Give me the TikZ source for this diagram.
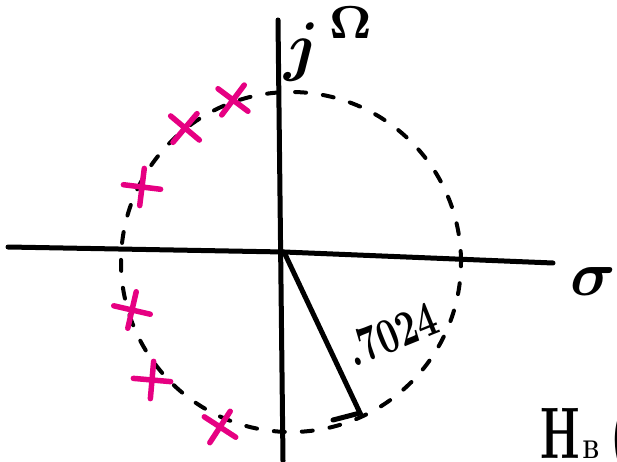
\documentclass[tikz,border=0pt]{standalone}
\usepackage{amsmath}
\usetikzlibrary{shapes.misc}
\definecolor{polepink}{RGB}{230,0,130}

\begin{document}
\begin{tikzpicture}[x=1pt, y=1pt, line cap=round,
    axisline/.style={line width=5pt},
    polemark/.style={cross out, draw=polepink, line width=5.5pt, minimum size=21pt, inner sep=0pt}]
  \useasboundingbox (0,0) rectangle (617,461);
  \clip (0,0) rectangle (617,461);

  % 坐标轴
  \coordinate (sl) at (8,214);
  \coordinate (o) at (284,209);
  \coordinate (sr) at (553,198);
  \coordinate (jt) at (278,441);
  \coordinate (jb) at (283,0);
  \draw[axisline] (sl) -- (o) -- (sr);
  \draw[axisline] (jt) -- (jb);
  \node[scale=6.6, inner sep=0pt] (jw) at (330,417) {$\boldsymbol{j}^{\,\boldsymbol{\Omega}}$};
  \node[scale=6.3, inner sep=0pt] (sig) at (593,180) {$\boldsymbol{\sigma}$};

  % 圆 (虚线)
  \coordinate (c) at (291,199);
  \draw[line width=4pt, dash pattern=on 11pt off 17pt] (c) circle (170pt);

  % 半径
  \coordinate (re) at (360,48);
  \coordinate (rt) at (333,41);
  \draw[axisline] (o) -- (re) -- (rt);
  \node[rotate=22, xscale=3.6, yscale=5, inner sep=0pt, font=\bfseries] (rad) at (392,127) {.7024};

  % 极点
  \node[polemark, rotate=8]  (p1) at (233,361) {};
  \node[polemark, rotate=5]  (p2) at (185,333) {};
  \node[polemark, rotate=38] (p3) at (142,274) {};
  \node[polemark, rotate=32] (p4) at (132,151) {};
  \node[polemark, rotate=40] (p5) at (152,81) {};
  \node[polemark, rotate=12] (p6) at (220,34) {};

  % 传递函数 (被截断)
  \node[anchor=base west, xscale=4.4, yscale=7.3, inner sep=0pt, font=\bfseries] (hb) at (540,3)
    {H\kern0.05em\scalebox{0.47}[0.35]{B}\kern0.25em(};
\end{tikzpicture}
\end{document}
